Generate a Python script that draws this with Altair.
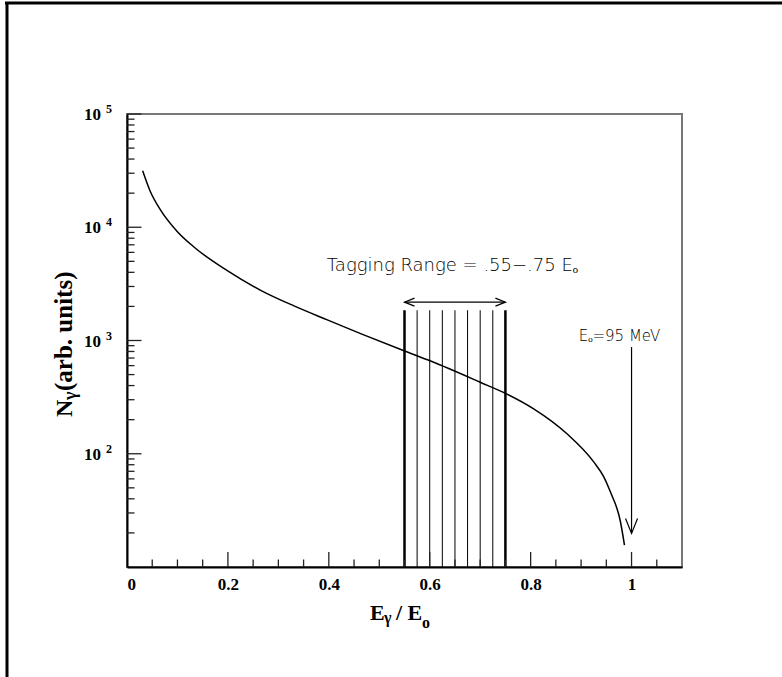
import altair as alt
import pandas as pd

# ---------------- data ----------------
curve_x = [0.031, 0.046, 0.066, 0.099, 0.132, 0.198, 0.265, 0.331, 0.397, 0.463,
           0.549, 0.603, 0.700, 0.752, 0.806, 0.872, 0.925, 0.945, 0.958, 0.978, 0.986]
curve_y = [31550, 20800, 14300, 9230, 6730, 4160, 2775, 2020, 1520, 1150,
           811, 655, 428, 338, 249, 150, 84.7, 62.5, 46.1, 25.1, 15.6]

tag_x = [0.55, 0.575, 0.6, 0.625, 0.65, 0.675, 0.7, 0.725, 0.75]
tag_edge = [True, False, False, False, False, False, False, False, True]
tag_top = 1850
tag_bottom = 10
tag_arrow_y = 2180

e0_x = 1.0
e0_arrow_top = 875
e0_arrow_tip = 19.8

x_labels = [0, 0.2, 0.4, 0.6, 0.8, 1.0]
x_major = [0.2, 0.4, 0.6, 0.8, 1.0]
x_minor = [0.05, 0.1, 0.15, 0.25, 0.3, 0.35, 0.45, 0.5, 0.55, 0.65, 0.7, 0.75,
           0.85, 0.9, 0.95, 1.05]
y_major = [100, 1000, 10000, 100000]
y_minor = [20, 30, 40, 50, 60, 70, 80, 90,
           200, 300, 400, 500, 600, 700, 800, 900,
           2000, 3000, 4000, 5000, 6000, 7000, 8000, 9000,
           20000, 30000, 40000, 50000, 60000, 70000, 80000, 90000]
y_label_vals = [100, 1000, 10000, 100000]
y_label_exp = ["2", "3", "4", "5"]

W, H = 555, 453
X_DOM = [0, 1.1]
Y_DOM = [10, 100000]

xs = alt.Scale(domain=X_DOM, nice=False, zero=False)
ys = alt.Scale(type="log", domain=Y_DOM, nice=False)

curve_df = pd.DataFrame({"x": curve_x, "y": curve_y})
tag_df = pd.DataFrame({"x": tag_x, "edge": tag_edge,
                       "top": [tag_top] * len(tag_x), "bot": [tag_bottom] * len(tag_x)})
xmaj_df = pd.DataFrame({"x": x_major})
xmin_df = pd.DataFrame({"x": x_minor})
ymaj_df = pd.DataFrame({"y": y_major})
ymin_df = pd.DataFrame({"y": y_minor})
ylab_df = pd.DataFrame({"y": y_label_vals, "e": y_label_exp})

base_x = alt.X("x:Q", scale=xs,
               axis=alt.Axis(values=x_labels, format=".1~f", title=None, grid=False,
                             ticks=False, domain=True, domainColor="black", domainWidth=2,
                             labelFont="Liberation Serif", labelFontWeight="bold",
                             labelFontSize=17, labelColor="black", labelPadding=9))

curve = alt.Chart(curve_df).mark_line(color="black", strokeWidth=1.5,
                                      interpolate="monotone").encode(
    x=base_x,
    y=alt.Y("y:Q", scale=ys,
            axis=alt.Axis(labels=False, ticks=False, grid=False, title=None,
                          domain=True, domainColor="black", domainWidth=2)))

tag_thin = alt.Chart(tag_df).transform_filter("!datum.edge").mark_rule(
    color="black", strokeWidth=1).encode(
    x=alt.X("x:Q", scale=xs), y=alt.Y("bot:Q", scale=ys), y2="top:Q")
tag_thick = alt.Chart(tag_df).transform_filter("datum.edge").mark_rule(
    color="black", strokeWidth=2.5).encode(
    x=alt.X("x:Q", scale=xs), y=alt.Y("bot:Q", scale=ys), y2="top:Q")

tag_arrow = alt.Chart().mark_rule(color="black", strokeWidth=1.2).encode(
    x=alt.datum(tag_x[0], scale=xs), x2=alt.datum(tag_x[-1]),
    y=alt.datum(tag_arrow_y, scale=ys))
head_l = alt.Chart().mark_point(shape="M2.5,-1L0,0L2.5,1", size=64, filled=False,
                                color="black", strokeWidth=1.2, opacity=1).encode(
    x=alt.datum(tag_x[0], scale=xs), y=alt.datum(tag_arrow_y, scale=ys))
head_r = alt.Chart().mark_point(shape="M-2.5,-1L0,0L-2.5,1", size=64, filled=False,
                                color="black", strokeWidth=1.2, opacity=1).encode(
    x=alt.datum(tag_x[-1], scale=xs), y=alt.datum(tag_arrow_y, scale=ys))

e0_arrow = alt.Chart().mark_rule(color="black", strokeWidth=1.2).encode(
    x=alt.datum(e0_x, scale=xs), y=alt.datum(e0_arrow_top, scale=ys),
    y2=alt.datum(e0_arrow_tip))
head_d = alt.Chart().mark_point(shape="M-1,-2.5L0,0L1,-2.5", size=144, filled=False,
                                color="black", strokeWidth=1.2, opacity=1).encode(
    x=alt.datum(e0_x, scale=xs), y=alt.datum(e0_arrow_tip, scale=ys))

tag_text = alt.Chart().mark_text(text="Tagging Range = .55\u2212.75 E\u2092",
                                 font="DejaVu Sans", fontWeight=200, fontSize=18,
                                 color="black", align="center", baseline="middle").encode(
    x=alt.datum(0.645, scale=xs), y=alt.datum(4510, scale=ys))
e0_text = alt.Chart().mark_text(text="E\u2092=95 MeV",
                                font="DejaVu Sans", fontWeight=200, fontSize=15,
                                color="black", align="center", baseline="middle").encode(
    x=alt.datum(0.976, scale=xs), y=alt.datum(1094, scale=ys))

# ticks (inside, ROOT style)
tk = dict(color="#222222", strokeWidth=1.3)
xmaj = alt.Chart(xmaj_df).mark_rule(**tk).encode(
    x=alt.X("x:Q", scale=xs), y=alt.value(H), y2=alt.value(H - 15))
xmin = alt.Chart(xmin_df).mark_rule(**tk).encode(
    x=alt.X("x:Q", scale=xs), y=alt.value(H), y2=alt.value(H - 7.5))
ymaj = alt.Chart(ymaj_df).mark_rule(**tk).encode(
    y=alt.Y("y:Q", scale=ys), x=alt.value(0), x2=alt.value(14.5))
ymin = alt.Chart(ymin_df).mark_rule(**tk).encode(
    y=alt.Y("y:Q", scale=ys), x=alt.value(0), x2=alt.value(7.5))

# y tick labels 10^n
ylab10 = alt.Chart(ylab_df).mark_text(text="10", font="Liberation Serif", fontWeight="bold",
                                      fontSize=17, color="black", align="right",
                                      baseline="middle", dy=1).encode(
    y=alt.Y("y:Q", scale=ys), x=alt.value(-26))
ylabexp = alt.Chart(ylab_df).mark_text(font="Liberation Serif", fontWeight="bold",
                                       fontSize=12, color="black", align="left",
                                       baseline="middle", dy=-5).encode(
    y=alt.Y("y:Q", scale=ys), x=alt.value(-21), text="e:N")

# axis titles
tf = dict(font="Liberation Serif", fontWeight="bold", color="black")
ytitle_n = alt.Chart().mark_text(text="N", fontSize=24, angle=270, align="left",
                                 baseline="alphabetic", **tf).encode(
    x=alt.value(-55), y=alt.value(303))
ytitle_g = alt.Chart().mark_text(text="\u03b3", fontSize=18, angle=270, align="left",
                                 baseline="alphabetic", **tf).encode(
    x=alt.value(-51), y=alt.value(286))
ytitle_r = alt.Chart().mark_text(text="(arb. units)", fontSize=25, angle=270, align="left",
                                 baseline="alphabetic", **tf).encode(
    x=alt.value(-55), y=alt.value(277))

xtitle_e = alt.Chart().mark_text(text="E", fontSize=22, align="left",
                                 baseline="alphabetic", **tf).encode(
    x=alt.value(243), y=alt.value(506))
xtitle_g = alt.Chart().mark_text(text="\u03b3", fontSize=16, align="left",
                                 baseline="alphabetic", **tf).encode(
    x=alt.value(257), y=alt.value(509))
xtitle_r = alt.Chart().mark_text(text="/ E", fontSize=22, align="left",
                                 baseline="alphabetic", **tf).encode(
    x=alt.value(269), y=alt.value(506))
xtitle_o = alt.Chart().mark_text(text="o", fontSize=16, align="left",
                                 baseline="alphabetic", **tf).encode(
    x=alt.value(295), y=alt.value(514))

# page border (top and left edges of the canvas frame)
border_top = alt.Chart().mark_rule(color="black", strokeWidth=3).encode(
    x=alt.value(-122), x2=alt.value(660), y=alt.value(-111))
border_left = alt.Chart().mark_rule(color="black", strokeWidth=3).encode(
    x=alt.value(-120), y=alt.value(-112), y2=alt.value(570))

chart = alt.layer(
    curve, tag_thin, tag_thick, tag_arrow, head_l, head_r, e0_arrow, head_d,
    tag_text, e0_text, xmaj, xmin, ymaj, ymin, ylab10, ylabexp,
    ytitle_n, ytitle_g, ytitle_r, xtitle_e, xtitle_g, xtitle_r, xtitle_o,
    border_top, border_left,
).properties(
    width=W, height=H,
    autosize=alt.AutoSizeParams(type="none"),
    padding={"left": 127, "top": 114, "right": 100, "bottom": 110},
    background="white",
).configure_view(stroke="#777777", strokeWidth=2)

chart.save("out.html", embed_options={"renderer": "svg", "actions": False})
